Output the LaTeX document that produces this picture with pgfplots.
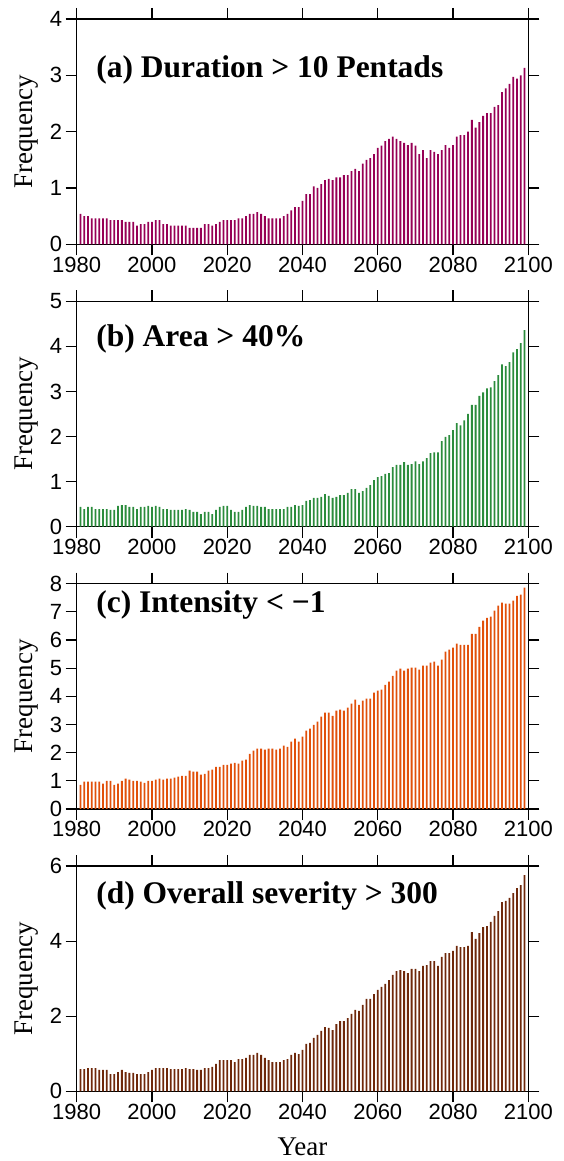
\documentclass[border=0pt]{standalone}
\usepackage{pgfplots}
\pgfplotsset{compat=1.18}
\usepackage{fontspec}
\setmainfont{Liberation Serif}
\newfontfamily\tickfont{Liberation Sans}
\definecolor{cA}{HTML}{960055}
\definecolor{cB}{HTML}{2B8C3C}
\definecolor{cC}{HTML}{E1500A}
\definecolor{cD}{HTML}{6E280A}
\pgfplotsset{panel/.style={
  scale only axis, width=451.6pt, height=225.3pt,
  anchor=south west,
  xmin=1980, xmax=2100, xtick={1980,2000,...,2100},
  ymin=0,
  xtick pos=both, ytick pos=both, tick align=outside,
  major tick length=11pt,
  axis line style={line width=1.1pt},
  every tick/.style={black, line width=1.1pt},
  tick label style={font=\tickfont\fontsize{22}{22}\selectfont},
  xticklabel style={yshift=2pt},
  /pgf/number format/assume math mode=true,
  /pgf/number format/1000 sep={},
  ylabel={Frequency},
  ylabel style={font=\fontsize{27}{27}\selectfont, at={(axis description cs:-0.11,0.5)}, anchor=center, rotate=0},
  ybar, bar width=1.8pt,
  clip=false,
}}
\begin{document}
\begin{tikzpicture}
\path[use as bounding box] (0,0) rectangle (563pt,1161pt);
% (a)
\begin{axis}[panel, at={(76.7pt,916.7pt)}, ymax=4, ytick={0,1,2,3,4}]
\addplot[draw=none, fill=cA] table {
1981 0.54
1982 0.50
1983 0.50
1984 0.46
1985 0.46
1986 0.46
1987 0.46
1988 0.46
1989 0.43
1990 0.43
1991 0.43
1992 0.43
1993 0.40
1994 0.40
1995 0.40
1996 0.33
1997 0.36
1998 0.36
1999 0.40
2000 0.40
2001 0.43
2002 0.43
2003 0.36
2004 0.36
2005 0.33
2006 0.33
2007 0.33
2008 0.33
2009 0.33
2010 0.29
2011 0.29
2012 0.29
2013 0.29
2014 0.36
2015 0.36
2016 0.33
2017 0.36
2018 0.40
2019 0.43
2020 0.43
2021 0.43
2022 0.43
2023 0.46
2024 0.46
2025 0.50
2026 0.54
2027 0.54
2028 0.57
2029 0.54
2030 0.50
2031 0.46
2032 0.46
2033 0.46
2034 0.46
2035 0.50
2036 0.54
2037 0.60
2038 0.66
2039 0.66
2040 0.77
2041 0.89
2042 0.89
2043 1.03
2044 1.00
2045 1.07
2046 1.14
2047 1.16
2048 1.14
2049 1.19
2050 1.19
2051 1.23
2052 1.23
2053 1.30
2054 1.34
2055 1.30
2056 1.43
2057 1.50
2058 1.53
2059 1.60
2060 1.71
2061 1.75
2062 1.83
2063 1.87
2064 1.91
2065 1.87
2066 1.83
2067 1.80
2068 1.76
2069 1.80
2070 1.75
2071 1.60
2072 1.67
2073 1.53
2074 1.67
2075 1.64
2076 1.60
2077 1.67
2078 1.76
2079 1.71
2080 1.76
2081 1.91
2082 1.94
2083 1.94
2084 2.00
2085 2.21
2086 2.07
2087 2.17
2088 2.28
2089 2.33
2090 2.33
2091 2.44
2092 2.47
2093 2.70
2094 2.77
2095 2.85
2096 2.97
2097 2.94
2098 3.00
2099 3.13
};
\node[anchor=base west, font=\bfseries\fontsize{31.5}{31.5}\selectfont, inner sep=0pt] at (rel axis cs:0.043,0.742) {(a) Duration > 10 Pentads};
\end{axis}
% (b)
\begin{axis}[panel, at={(76.7pt,634.35pt)}, ymax=5, ytick={0,1,2,3,4,5}]
\addplot[draw=none, fill=cB] table {
1981 0.44
1982 0.39
1983 0.44
1984 0.44
1985 0.39
1986 0.39
1987 0.39
1988 0.39
1989 0.37
1990 0.37
1991 0.46
1992 0.48
1993 0.48
1994 0.44
1995 0.44
1996 0.39
1997 0.44
1998 0.44
1999 0.46
2000 0.44
2001 0.46
2002 0.44
2003 0.39
2004 0.39
2005 0.37
2006 0.37
2007 0.37
2008 0.37
2009 0.39
2010 0.37
2011 0.33
2012 0.33
2013 0.28
2014 0.33
2015 0.33
2016 0.28
2017 0.37
2018 0.44
2019 0.46
2020 0.46
2021 0.37
2022 0.33
2023 0.33
2024 0.37
2025 0.44
2026 0.48
2027 0.46
2028 0.46
2029 0.44
2030 0.44
2031 0.39
2032 0.39
2033 0.39
2034 0.39
2035 0.39
2036 0.44
2037 0.44
2038 0.48
2039 0.46
2040 0.48
2041 0.57
2042 0.59
2043 0.64
2044 0.64
2045 0.66
2046 0.72
2047 0.68
2048 0.64
2049 0.66
2050 0.70
2051 0.70
2052 0.75
2053 0.83
2054 0.83
2055 0.75
2056 0.79
2057 0.86
2058 0.92
2059 1.03
2060 1.10
2061 1.12
2062 1.17
2063 1.19
2064 1.32
2065 1.37
2066 1.37
2067 1.43
2068 1.37
2069 1.39
2070 1.45
2071 1.39
2072 1.45
2073 1.52
2074 1.63
2075 1.65
2076 1.65
2077 1.90
2078 1.99
2079 2.03
2080 2.14
2081 2.30
2082 2.25
2083 2.36
2084 2.50
2085 2.70
2086 2.70
2087 2.90
2088 2.98
2089 3.07
2090 3.09
2091 3.23
2092 3.36
2093 3.60
2094 3.56
2095 3.65
2096 3.87
2097 3.94
2098 4.07
2099 4.36
};
\node[anchor=base west, font=\bfseries\fontsize{31.5}{31.5}\selectfont, inner sep=0pt] at (rel axis cs:0.043,0.798) {(b) Area > 40\%};
\end{axis}
% (c)
\begin{axis}[panel, at={(76.7pt,352.0pt)}, ymax=8, ytick={0,1,...,8}]
\addplot[draw=none, fill=cC] table {
1981 0.86
1982 0.97
1983 0.97
1984 0.97
1985 0.97
1986 0.97
1987 0.90
1988 1.00
1989 1.00
1990 0.86
1991 0.90
1992 1.00
1993 1.08
1994 1.04
1995 1.00
1996 1.00
1997 0.97
1998 0.93
1999 1.00
2000 1.00
2001 1.04
2002 1.08
2003 1.04
2004 1.08
2005 1.08
2006 1.11
2007 1.15
2008 1.18
2009 1.18
2010 1.36
2011 1.33
2012 1.33
2013 1.22
2014 1.25
2015 1.36
2016 1.40
2017 1.50
2018 1.50
2019 1.57
2020 1.57
2021 1.61
2022 1.64
2023 1.61
2024 1.72
2025 1.75
2026 1.96
2027 2.07
2028 2.14
2029 2.14
2030 2.11
2031 2.14
2032 2.14
2033 2.11
2034 2.14
2035 2.25
2036 2.21
2037 2.39
2038 2.50
2039 2.39
2040 2.57
2041 2.78
2042 2.85
2043 2.99
2044 3.10
2045 3.28
2046 3.42
2047 3.42
2048 3.31
2049 3.49
2050 3.53
2051 3.49
2052 3.60
2053 3.74
2054 3.88
2055 3.70
2056 3.85
2057 3.92
2058 3.92
2059 4.13
2060 4.20
2061 4.24
2062 4.41
2063 4.52
2064 4.73
2065 4.91
2066 4.98
2067 4.91
2068 4.98
2069 5.02
2070 5.02
2071 4.95
2072 5.09
2073 5.09
2074 5.20
2075 5.23
2076 5.09
2077 5.30
2078 5.59
2079 5.66
2080 5.73
2081 5.87
2082 5.83
2083 5.83
2084 5.83
2085 6.22
2086 6.22
2087 6.47
2088 6.69
2089 6.79
2090 6.83
2091 7.04
2092 7.22
2093 7.33
2094 7.29
2095 7.29
2096 7.40
2097 7.57
2098 7.61
2099 7.86
};
\node[anchor=base west, font=\bfseries\fontsize{31.5}{31.5}\selectfont, inner sep=0pt] at (rel axis cs:0.043,0.871) {(c) Intensity < −1};
\end{axis}
% (d)
\begin{axis}[panel, at={(76.7pt,69.7pt)}, ymax=6, ytick={0,2,4,6},
  xlabel={Year}, xlabel style={font=\fontsize{27}{27}\selectfont, at={(axis description cs:0.5,-0.283)}, anchor=base}]
\addplot[draw=none, fill=cD] table {
1981 0.59
1982 0.59
1983 0.62
1984 0.62
1985 0.62
1986 0.57
1987 0.57
1988 0.57
1989 0.46
1990 0.46
1991 0.51
1992 0.57
1993 0.51
1994 0.49
1995 0.49
1996 0.46
1997 0.46
1998 0.46
1999 0.51
2000 0.57
2001 0.62
2002 0.62
2003 0.62
2004 0.62
2005 0.59
2006 0.59
2007 0.59
2008 0.59
2009 0.62
2010 0.59
2011 0.59
2012 0.57
2013 0.57
2014 0.62
2015 0.62
2016 0.65
2017 0.73
2018 0.83
2019 0.83
2020 0.83
2021 0.83
2022 0.78
2023 0.86
2024 0.86
2025 0.89
2026 0.97
2027 0.97
2028 1.02
2029 0.97
2030 0.89
2031 0.83
2032 0.78
2033 0.78
2034 0.78
2035 0.83
2036 0.86
2037 0.97
2038 1.02
2039 0.99
2040 1.10
2041 1.26
2042 1.29
2043 1.42
2044 1.50
2045 1.61
2046 1.71
2047 1.69
2048 1.63
2049 1.79
2050 1.87
2051 1.87
2052 1.95
2053 2.06
2054 2.17
2055 2.14
2056 2.30
2057 2.46
2058 2.46
2059 2.59
2060 2.70
2061 2.78
2062 2.86
2063 2.96
2064 3.10
2065 3.20
2066 3.23
2067 3.20
2068 3.15
2069 3.26
2070 3.26
2071 3.20
2072 3.34
2073 3.36
2074 3.47
2075 3.47
2076 3.34
2077 3.58
2078 3.68
2079 3.68
2080 3.74
2081 3.87
2082 3.84
2083 3.84
2084 3.87
2085 4.24
2086 4.06
2087 4.21
2088 4.37
2089 4.40
2090 4.51
2091 4.67
2092 4.80
2093 5.04
2094 5.07
2095 5.15
2096 5.28
2097 5.41
2098 5.49
2099 5.76
};
\node[anchor=base west, font=\bfseries\fontsize{31.5}{31.5}\selectfont, inner sep=0pt] at (rel axis cs:0.043,0.834) {(d) Overall severity > 300};
\end{axis}
\end{tikzpicture}
\end{document}
